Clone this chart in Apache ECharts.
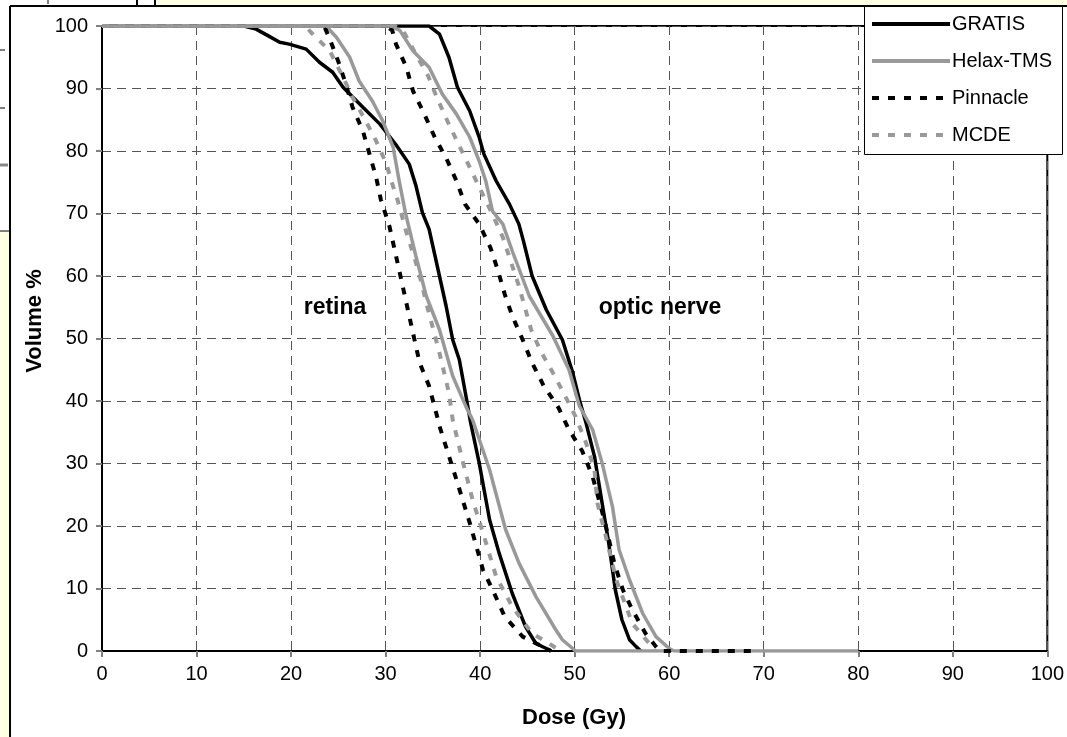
<!DOCTYPE html>
<html>
<head>
<meta charset="utf-8">
<script src="https://cdn.jsdelivr.net/npm/echarts@6/dist/echarts.min.js"></script>
<style>
  html, body { margin: 0; padding: 0; background: #ffffff; }
  #chart { width: 1067px; height: 737px; }
</style>
</head>
<body>
<div id="chart"></div>
<script>
// Dose-volume histograms: [dose (Gy), volume %]
const retinaGratis = [[0,100],[15,100],[16.3,99.5],[17.5,98.5],[18.8,97.4],[19.8,97.1],[21.6,96.3],[23.0,94.2],[24.4,92.6],[25.5,90.2],[27.6,87.0],[29.4,84.3],[31.1,81.0],[32.5,77.9],[33.2,74.5],[33.9,70.1],[34.6,67.5],[35.7,60.0],[36.4,55.2],[37.1,49.8],[37.8,46.6],[38.5,40.8],[39.0,36.5],[39.9,30.1],[41.0,21.0],[42.0,15.7],[43.4,9.2],[44.8,3.9],[45.9,1.2],[47.0,0.4],[47.5,0]];
const retinaHelax = [[0,100],[23.7,100],[24.8,98.2],[26.2,95.0],[27.2,91.2],[28.6,88.0],[29.7,84.8],[30.8,80.6],[31.4,75.5],[32.1,70.1],[33.2,63.2],[34.3,56.8],[35.7,51.4],[37.1,44.0],[38.5,39.1],[39.2,37.0],[41.0,29.0],[42.7,19.4],[44.1,14.1],[45.9,8.7],[48.0,3.4],[48.7,1.8],[50.1,0],[60,0]];
const retinaPinnacle = [[0,100],[23.5,100],[24.1,97.9],[25.1,93.9],[25.8,90.7],[26.5,87.0],[27.6,83.2],[28.3,79.5],[29.0,75.8],[29.5,72.2],[30.4,68.0],[31.5,60.5],[32.5,53.6],[33.6,46.1],[34.6,42.4],[35.8,35.5],[37.5,27.4],[38.9,20.5],[40.3,13.0],[41.5,9.2],[42.6,5.5],[44.5,2.3],[47.0,0.4],[47.5,0]];
const retinaMcde = [[0,100],[21.5,100],[22.1,99.0],[24.1,96.0],[25.5,91.8],[26.5,88.6],[27.9,84.8],[29.0,81.6],[30.1,77.9],[30.6,75.2],[31.3,72.0],[32.2,67.0],[33.1,62.7],[33.8,58.9],[34.3,55.7],[35.7,47.7],[36.7,41.3],[37.1,37.0],[38.2,30.1],[39.2,24.2],[40.3,18.9],[41.7,11.9],[43.4,7.1],[45.5,2.8],[47.3,1.2],[48.5,0]];

const opticGratis = [[0,100],[34.6,100],[35.7,98.7],[36.7,95.0],[37.6,90.2],[38.9,86.4],[39.9,82.2],[40.4,79.5],[41.7,75.2],[43.1,71.5],[44.1,68.3],[44.6,65.5],[45.5,60.0],[47.0,54.6],[48.7,49.8],[49.8,44.5],[50.5,40.2],[51.2,36.5],[52.1,31.1],[52.9,23.7],[53.6,17.3],[54.3,9.8],[55.0,5.0],[55.8,1.8],[56.5,0.7],[57.0,0]];
const opticHelax = [[0,100],[30.5,100],[31.5,99.3],[32.9,96.0],[34.6,93.4],[36.0,89.1],[37.5,85.9],[38.9,82.2],[39.9,78.4],[40.6,75.2],[41.3,70.4],[42.4,68.3],[43.4,64.0],[45.2,56.8],[47.7,50.4],[49.4,45.0],[50.5,39.2],[51.9,35.4],[52.9,30.1],[54.0,23.1],[54.7,16.2],[55.8,11.4],[57.2,6.0],[58.6,2.3],[60.0,0.4],[60.5,0],[80,0]];
const opticPinnacle = [[0,100],[30.0,100],[30.7,99.3],[31.1,97.1],[32.2,93.4],[32.9,89.6],[34.1,85.9],[35.2,82.2],[36.4,78.9],[37.5,75.2],[38.4,71.5],[39.9,68.3],[41.1,64.5],[41.9,60.8],[42.6,57.1],[43.4,53.6],[44.5,49.8],[45.5,46.1],[46.7,42.5],[48.3,38.9],[49.4,35.4],[50.8,32.0],[51.9,27.9],[52.6,24.0],[53.3,20.0],[54.2,14.0],[55.1,9.8],[56.1,6.6],[57.5,2.8],[58.6,0.7],[59.0,0],[69,0]];
const opticMcde = [[0,100],[31.0,100],[31.8,99.4],[33.2,95.5],[34.5,92.0],[35.5,88.3],[36.6,84.6],[37.8,80.8],[38.9,77.4],[40.1,73.6],[41.3,69.9],[42.4,66.2],[44.1,58.4],[45.4,51.4],[46.4,48.0],[47.7,44.5],[49.0,40.8],[50.1,37.5],[51.2,33.3],[52.1,29.0],[52.4,23.7],[53.3,18.3],[54.4,11.4],[56.1,4.4],[57.9,1.2],[58.5,0]];

const systems = ['GRATIS', 'Helax-TMS', 'Pinnacle', 'MCDE'];
const doseTicks = { min: 0, max: 100, step: 10 };
const volumeTicks = { min: 0, max: 100, step: 10 };

const styles = {
  'GRATIS':    { color: '#000000', type: 'solid', width: 3.5 },
  'Helax-TMS': { color: '#999999', type: 'solid', width: 3.5 },
  'Pinnacle':  { color: '#000000', type: [7, 9], width: 4 },
  'MCDE':      { color: '#999999', type: [7, 9], width: 4 }
};

const curves = [
  ['GRATIS', retinaGratis], ['GRATIS', opticGratis],
  ['Helax-TMS', retinaHelax], ['Helax-TMS', opticHelax],
  ['Pinnacle', retinaPinnacle], ['Pinnacle', opticPinnacle],
  ['MCDE', retinaMcde], ['MCDE', opticMcde]
];

const FONT = '"Liberation Sans", Arial, sans-serif';
const chart = echarts.init(document.getElementById('chart'), null, { renderer: 'canvas' });

const series = curves.map(([name, data]) => ({
  name,
  type: 'line',
  data,
  showSymbol: false,
  symbol: 'none',
  smooth: false,
  animation: false,
  lineStyle: { color: styles[name].color, type: styles[name].type, width: styles[name].width },
  itemStyle: { color: styles[name].color },
  z: 3
}));

const yellow = '#FFFFE3';

chart.setOption({
  backgroundColor: '#ffffff',
  animation: false,
  grid: {
    left: 102, right: 18, top: 26, bottom: 86,
    show: true, backgroundColor: '#ffffff', borderColor: '#000000', borderWidth: 2
  },
  xAxis: {
    type: 'value', min: doseTicks.min, max: doseTicks.max, interval: doseTicks.step,
    axisLine: { show: true, onZero: false, lineStyle: { color: '#000000', width: 2 } },
    axisTick: { show: true, length: 6, lineStyle: { color: '#808080', width: 2 } },
    axisLabel: { color: '#000000', fontSize: 20, fontFamily: FONT, margin: 13 },
    splitLine: { show: true, lineStyle: { color: '#555555', width: 1, type: [9, 6] } }
  },
  yAxis: {
    type: 'value', min: volumeTicks.min, max: volumeTicks.max, interval: volumeTicks.step,
    axisLine: { show: true, onZero: false, lineStyle: { color: '#000000', width: 2 } },
    axisTick: { show: true, length: 6, lineStyle: { color: '#808080', width: 2 } },
    axisLabel: { color: '#000000', fontSize: 20, fontFamily: FONT, margin: 14 },
    splitLine: { show: true, lineStyle: { color: '#555555', width: 1, type: [9, 6] } }
  },
  legend: {
    data: systems,
    orient: 'vertical',
    left: 870, top: 14,
    itemWidth: 78, itemHeight: 12, itemGap: 17,
    padding: 0,
    z: 12,
    itemStyle: { color: 'transparent', borderWidth: 0, opacity: 0 },
    lineStyle: { width: 4 },
    textStyle: { color: '#000000', fontSize: 20, fontFamily: FONT, padding: [0, 0, 0, -3] }
  },
  graphic: [
    // surrounding page strips
    { type: 'rect', shape: { x: 155, y: 0, width: 912, height: 6 }, style: { fill: yellow }, z: 1 },
    { type: 'rect', shape: { x: 0, y: 232, width: 10, height: 505 }, style: { fill: yellow }, z: 1 },
    { type: 'line', shape: { x1: 10, y1: 6, x2: 1067, y2: 6 }, style: { stroke: '#000', lineWidth: 2 }, z: 1 },
    { type: 'line', shape: { x1: 10, y1: 6, x2: 10, y2: 737 }, style: { stroke: '#000', lineWidth: 2 }, z: 1 },
    { type: 'line', shape: { x1: 137, y1: 0, x2: 137, y2: 6 }, style: { stroke: '#000', lineWidth: 2 }, z: 1 },
    { type: 'line', shape: { x1: 155, y1: 0, x2: 155, y2: 6 }, style: { stroke: '#000', lineWidth: 2 }, z: 1 },
    { type: 'line', shape: { x1: 48, y1: 0, x2: 48, y2: 4 }, style: { stroke: '#000', lineWidth: 1 }, z: 1 },
    { type: 'line', shape: { x1: 0, y1: 50, x2: 5, y2: 50 }, style: { stroke: '#000', lineWidth: 1 }, z: 1 },
    { type: 'line', shape: { x1: 0, y1: 108, x2: 5, y2: 108 }, style: { stroke: '#000', lineWidth: 1 }, z: 1 },
    { type: 'line', shape: { x1: 0, y1: 165, x2: 8, y2: 165 }, style: { stroke: '#888', lineWidth: 3 }, z: 1 },
    { type: 'line', shape: { x1: 0, y1: 231, x2: 10, y2: 231 }, style: { stroke: '#000', lineWidth: 1 }, z: 1 },
    // legend frame
    { type: 'rect', shape: { x: 864.5, y: 6.5, width: 198, height: 148 }, style: { fill: '#ffffff', stroke: '#000000', lineWidth: 1 }, z: 11 },
    // axis titles
    { type: 'text', x: 35, y: 321, rotation: Math.PI / 2,
      style: { text: 'Volume %', fill: '#000', font: 'bold 22px ' + FONT, align: 'center', verticalAlign: 'middle' }, z: 5 },
    { type: 'text', x: 574, y: 718,
      style: { text: 'Dose (Gy)', fill: '#000', font: 'bold 22px ' + FONT, align: 'center', verticalAlign: 'middle' }, z: 5 },
    // structure annotations
    { type: 'text', x: 335, y: 308,
      style: { text: 'retina', fill: '#000', font: 'bold 23px ' + FONT, align: 'center', verticalAlign: 'middle' }, z: 5 },
    { type: 'text', x: 660, y: 308,
      style: { text: 'optic nerve', fill: '#000', font: 'bold 23px ' + FONT, align: 'center', verticalAlign: 'middle' }, z: 5 }
  ],
  series
});
</script>
</body>
</html>
